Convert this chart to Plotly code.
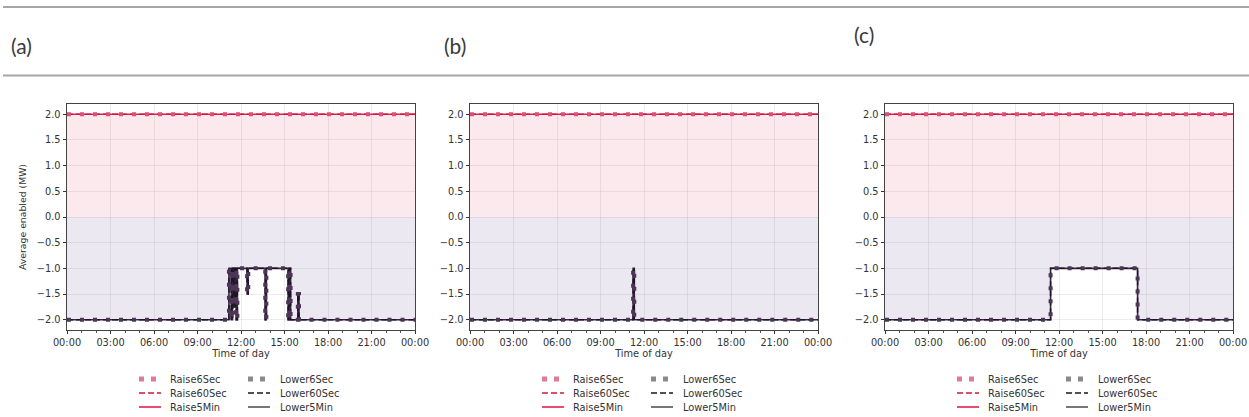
import plotly.graph_objects as go

# ---------------- data ----------------
panel_labels = ["(a)", "(b)", "(c)"]
tick_hours = [0, 3, 6, 9, 12, 15, 18, 21, 24]
tick_labels = ["00:00", "03:00", "06:00", "09:00", "12:00", "15:00", "18:00", "21:00", "00:00"]
y_ticks = [-2.0, -1.5, -1.0, -0.5, 0.0, 0.5, 1.0, 1.5, 2.0]

raise_names = ["Raise6Sec", "Raise60Sec", "Raise5Min"]
lower_names = ["Lower6Sec", "Lower60Sec", "Lower5Min"]

# step data (hour of day, MW), drawn as steps
raise_times = [0, 24]
raise_values = [2.0, 2.0]

a_lower_times = [0, 11.17, 11.33, 11.42, 11.5, 11.58, 11.67, 11.75, 12.42, 12.5,
                 13.67, 13.75, 15.25, 15.33, 15.42, 15.92, 16.0, 24]
a_lower_values = [-2.0, -1.0, -2.0, -1.0, -1.75, -1.0, -2.0, -1.0, -1.5, -1.0,
                  -2.0, -1.0, -2.0, -1.0, -2.0, -1.5, -2.0, -2.0]

b_lower_times = [0, 11.25, 11.33, 24]
b_lower_values = [-2.0, -1.0, -2.0, -2.0]

c_lower_times = [0, 11.42, 17.42, 24]
c_lower_values = [-2.0, -1.0, -2.0, -2.0]

lower_series = [(a_lower_times, a_lower_values),
                (b_lower_times, b_lower_values),
                (c_lower_times, c_lower_values)]

# ---------------- styling ----------------
W, H = 1249, 417
panel_left_px = [67, 470, 885]
plot_w_px = 348
y_top_px, y_bot_px = 104, 330

raise_styles = [  # 6Sec dotted, 60Sec dashed, 5Min solid
    dict(color="#d9507a", width=4, dash="4px,9px"),
    dict(color="#d4163f", width=1.5, dash="6px,3px"),
    dict(color="#e0204c", width=1.6, dash="solid"),
]
lower_styles = [
    dict(color="#4d3557", width=4, dash="4px,9px"),
    dict(color="#1c1420", width=1.5, dash="6px,3px"),
    dict(color="#3a2444", width=1.6, dash="solid"),
]
raise_fill = "rgba(230,40,90,0.10)"
lower_fill = "rgba(70,50,130,0.11)"

fig = go.Figure()
font_main = "DejaVu Sans"

for i in range(3):
    xa = "x" if i == 0 else f"x{i+1}"
    ya = "y" if i == 0 else f"y{i+1}"
    lt, lv = lower_series[i]
    fig.add_trace(go.Scatter(x=raise_times, y=raise_values, mode="lines",
                             line=dict(width=0, shape="hv"), fill="tozeroy",
                             fillcolor=raise_fill, showlegend=False, hoverinfo="skip",
                             xaxis=xa, yaxis=ya))
    fig.add_trace(go.Scatter(x=lt, y=lv, mode="lines",
                             line=dict(width=0, shape="hv"), fill="tozeroy",
                             fillcolor=lower_fill, showlegend=False, hoverinfo="skip",
                             xaxis=xa, yaxis=ya))
    for k in [2, 1, 0]:
        fig.add_trace(go.Scatter(x=raise_times, y=raise_values, mode="lines",
                                 name=raise_names[k],
                                 line=dict(shape="hv", **raise_styles[k]),
                                 showlegend=False, xaxis=xa, yaxis=ya))
    for k in [2, 1, 0]:
        fig.add_trace(go.Scatter(x=lt, y=lv, mode="lines",
                                 name=lower_names[k],
                                 line=dict(shape="hv", **lower_styles[k]),
                                 showlegend=False, xaxis=xa, yaxis=ya))

layout = dict(
    width=W, height=H, autosize=False,
    margin=dict(l=0, r=0, t=0, b=0, pad=0),
    paper_bgcolor="white", plot_bgcolor="white",
    showlegend=False,
    font=dict(family=font_main, size=10, color="#333333"),
)

y0 = 1 - y_bot_px / H
y1 = 1 - y_top_px / H
for i in range(3):
    xkey = "xaxis" if i == 0 else f"xaxis{i+1}"
    ykey = "yaxis" if i == 0 else f"yaxis{i+1}"
    xa = "x" if i == 0 else f"x{i+1}"
    ya = "y" if i == 0 else f"y{i+1}"
    x0 = panel_left_px[i] / W
    x1 = (panel_left_px[i] + plot_w_px) / W
    layout[xkey] = dict(
        domain=[x0, x1], anchor=ya, range=[0, 24], automargin=False,
        tickvals=tick_hours, ticktext=tick_labels,
        ticks="outside", ticklen=3.5, tickcolor="#333", tickwidth=0.8,
        showline=True, linecolor="#444", linewidth=0.9, mirror=True,
        showgrid=True, gridcolor="rgba(0,0,0,0.07)", gridwidth=0.8,
        zeroline=False,
        minor=dict(dtick=1, ticks="outside", ticklen=2, tickcolor="#555", showgrid=False),
        tickfont=dict(size=9.8, color="#333"),
        title=dict(text="Time of day", font=dict(size=9.8, color="#333"), standoff=2),
    )
    layout[ykey] = dict(
        domain=[y0, y1], anchor=xa, range=[-2.2, 2.2], automargin=False,
        tickvals=y_ticks, tickformat=".1f",
        ticks="outside", ticklen=3.5, tickcolor="#333", tickwidth=0.8,
        showline=True, linecolor="#444", linewidth=0.9, mirror=True,
        showgrid=True, gridcolor="rgba(0,0,0,0.07)", gridwidth=0.8,
        zeroline=False,
        tickfont=dict(size=9.8, color="#333"),
    )
layout["yaxis"]["title"] = dict(text="Average enabled (MW)", font=dict(size=9.3, color="#333"), standoff=8)

shapes = []
annotations = []
for ypx in [7, 75.5]:
    shapes.append(dict(type="line", xref="paper", yref="paper",
                       x0=3 / W, x1=1.0, y0=1 - ypx / H, y1=1 - ypx / H,
                       line=dict(color="#a6a6a6", width=2)))
label_pos = [(9, 46), (442, 46), (852, 34)]
for lab, (px, py) in zip(panel_labels, label_pos):
    annotations.append(dict(text=lab, xref="paper", yref="paper",
                            x=px / W, y=1 - py / H, xanchor="left", yanchor="middle",
                            showarrow=False,
                            font=dict(family="Lato", size=21, color="#3a3a3a")))

row_px = [379, 393, 407]
for i in range(3):
    base = panel_left_px[i]
    for col, (names, styles) in enumerate([(raise_names, raise_styles), (lower_names, lower_styles)]):
        sym_x0 = base + (72 if col == 0 else 181)
        txt_x = base + (101 if col == 0 else 211)
        for r in range(3):
            yy = 1 - row_px[r] / H
            st = styles[r]
            if r == 0:
                dash = "5px,7px"
                width = 5
                color = "#e07a98" if col == 0 else "#8a8a8a"
            else:
                dash = st["dash"]
                width = st["width"]
                color = st["color"] if col == 0 else ("#1c1420" if r == 1 else "#555555")
            shapes.append(dict(type="line", xref="paper", yref="paper",
                               x0=sym_x0 / W, x1=(sym_x0 + 22) / W, y0=yy, y1=yy,
                               line=dict(color=color, width=width, dash=dash)))
            annotations.append(dict(text=names[r], xref="paper", yref="paper",
                                    x=txt_x / W, y=yy, xanchor="left", yanchor="middle",
                                    showarrow=False,
                                    font=dict(size=9.8, color="#333")))

layout["shapes"] = shapes
layout["annotations"] = annotations
fig.update_layout(**layout)
fig.write_html(
    "out.html",
    config={"responsive": False, "displayModeBar": False},
    post_script="document.body.style.margin='0';document.body.style.padding='0';"
                "document.documentElement.style.overflow='hidden';",
)
